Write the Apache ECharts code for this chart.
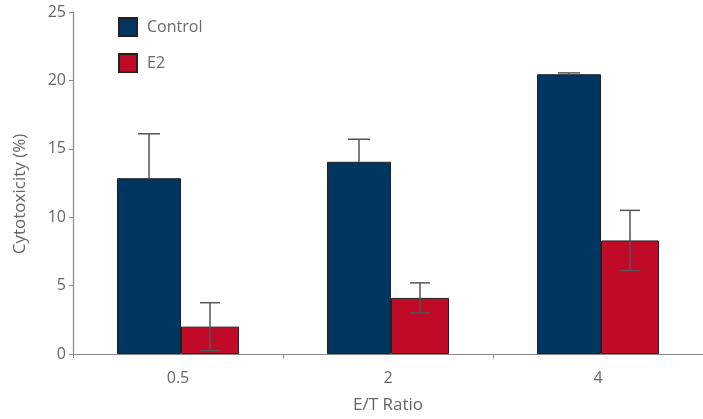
<!DOCTYPE html>
<html>
<head>
<meta charset="utf-8">
<script src="https://cdn.jsdelivr.net/npm/echarts@6/dist/echarts.min.js"></script>
<style>html,body{margin:0;padding:0;background:#fff;}#c{width:703px;height:419px;}</style>
</head>
<body>
<div id="c"></div>
<script>
var categories = ['0.5', '2', '4'];
var controlValues = [12.85, 14.05, 20.45];
var controlErrors = [3.25, 1.65, 0.1];
var e2Values = [2.0, 4.1, 8.3];
var e2Errors = [1.75, 1.1, 2.2];
var yTicks = [0, 5, 10, 15, 20, 25];

var FONT = '"Open Sans", "Noto Sans", sans-serif';
var chart = echarts.init(document.getElementById('c'));

function errorSeries(values, errors, offset, capHalf, upperOnly) {
  return {
    type: 'custom',
    silent: true,
    z: 5,
    data: values.map(function (v, i) { return [i, v, errors[i]]; }),
    renderItem: function (params, api) {
      var i = api.value(0), v = api.value(1), e = api.value(2);
      var hi = api.coord([i, v + e]);
      var lo = api.coord([i, upperOnly ? v : v - e]);
      var x = hi[0] + offset;
      var style = { stroke: '#555', lineWidth: 1.5 };
      var children = [
        { type: 'line', shape: { x1: x, y1: hi[1], x2: x, y2: lo[1] }, style: style },
        { type: 'line', shape: { x1: x - capHalf, y1: hi[1], x2: x + capHalf, y2: hi[1] }, style: style }
      ];
      if (!upperOnly) {
        children.push({ type: 'line', shape: { x1: x - capHalf, y1: lo[1], x2: x + capHalf, y2: lo[1] }, style: style });
      }
      return { type: 'group', children: children };
    }
  };
}

chart.setOption({
  animation: false,
  textStyle: { fontFamily: FONT },
  grid: { left: 73, right: 0, top: 12, bottom: 63 },
  legend: {
    orient: 'vertical',
    left: 113, top: 12,
    icon: 'rect',
    itemWidth: 18, itemHeight: 18, itemGap: 16,
    textStyle: { fontSize: 16, color: '#6a6a6a', fontFamily: FONT, padding: [0, 0, 0, 5] },
    data: ['Control', 'E2']
  },
  xAxis: {
    type: 'category',
    data: categories,
    name: 'E/T Ratio',
    nameLocation: 'middle',
    nameGap: 43,
    nameTextStyle: { fontSize: 17, color: '#666' },
    axisLine: { lineStyle: { color: '#888', width: 1.2 } },
    axisTick: { show: true, length: 4, lineStyle: { color: '#888' } },
    axisLabel: { fontSize: 16, color: '#666', margin: 16 }
  },
  yAxis: {
    type: 'value',
    min: yTicks[0], max: yTicks[yTicks.length - 1], interval: 5,
    name: 'Cytotoxicity (%)',
    nameLocation: 'middle',
    nameGap: 44,
    nameTextStyle: { fontSize: 17, color: '#666', padding: [0, 0, 0, -22] },
    axisLine: { show: true, lineStyle: { color: '#888', width: 1.2 } },
    axisTick: { show: true, length: 4, lineStyle: { color: '#888' } },
    splitLine: { show: false },
    axisLabel: { fontSize: 16, color: '#666', margin: 7 }
  },
  series: [
    {
      name: 'Control', type: 'bar', data: controlValues,
      barWidth: 64, barGap: '0%',
      itemStyle: { color: '#003660', borderColor: '#222', borderWidth: 1 }
    },
    {
      name: 'E2', type: 'bar', data: e2Values,
      barWidth: 58, barGap: '0%',
      itemStyle: { color: '#c00a27', borderColor: '#222', borderWidth: 1 }
    },
    errorSeries(controlValues, controlErrors, -29, 11, true),
    errorSeries(e2Values, e2Errors, 32, 10, false)
  ]
});
</script>
</body>
</html>
